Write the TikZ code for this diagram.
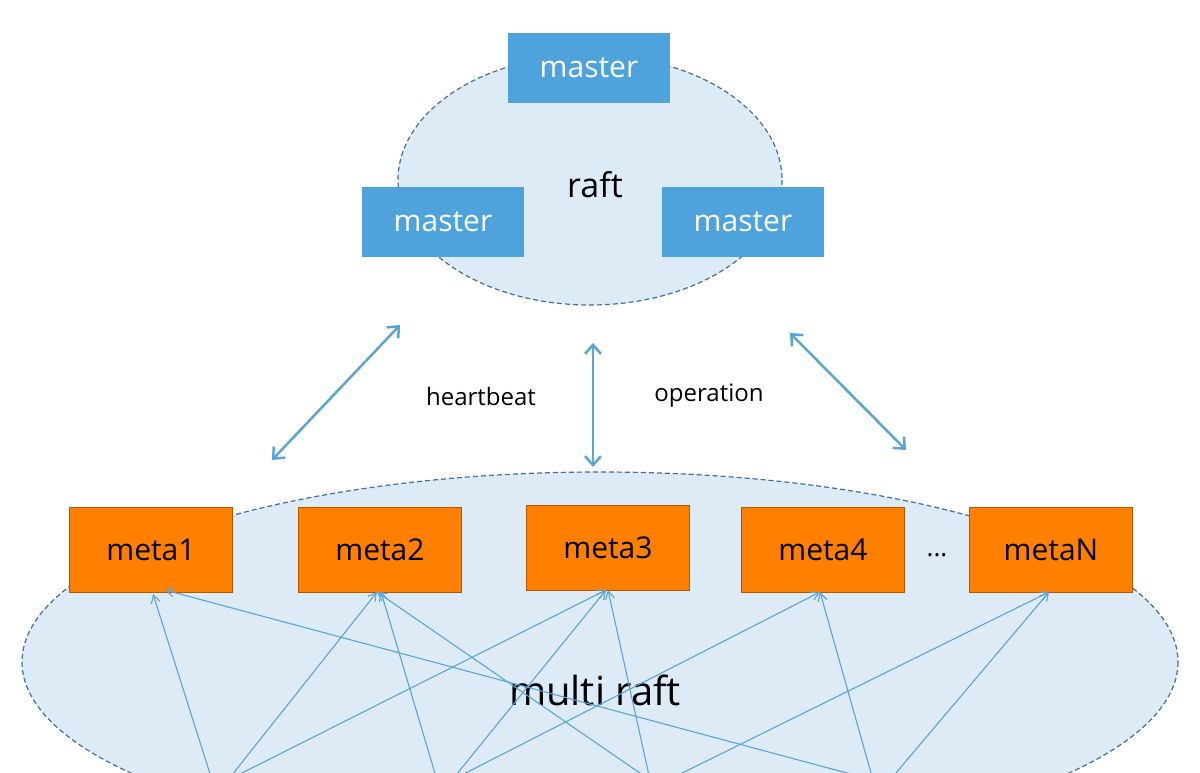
\documentclass[tikz,border=0pt]{standalone}
\usepackage{fontspec}
\setmainfont{Open Sans}
\usetikzlibrary{arrows.meta}
\definecolor{mblue}{HTML}{4EA3DD}
\definecolor{morange}{HTML}{FF8000}
\definecolor{ofill}{HTML}{DDEBF7}
\definecolor{odash}{HTML}{41719C}
\definecolor{lblue}{HTML}{5BA4D8}
\begin{document}
\begin{tikzpicture}[x=1pt,y=-1pt,
  cloud/.style={fill=ofill,draw=odash,dashed,line width=1.2pt,dash pattern=on 5pt off 3pt},
  mbox/.style={fill=mblue,text=white,minimum width=162pt,minimum height=70pt,font=\fontsize{30}{30}\selectfont,inner sep=0pt},
  obox/.style={fill=morange,draw=orange!70!black,text=black,minimum width=163pt,minimum height=85pt,font=\fontsize{30}{30}\selectfont,inner sep=0pt},
  dbl/.style={lblue,line width=2.5pt,{Straight Barb[length=9pt,width=16pt]}-{Straight Barb[length=9pt,width=16pt]}},
  link/.style={lblue,line width=1.1pt,-{Straight Barb[length=8pt,width=9pt]}}]
\useasboundingbox (0,0) rectangle (1200,772);
\begin{scope}
\clip (0,0) rectangle (1200,772);
\fill[white] (0,0) rectangle (1200,772);
\path[cloud] (590,180) ellipse [x radius=192, y radius=125];
\path[cloud] (600,662) ellipse [x radius=578, y radius=190];
\node[mbox] (m1) at (589,68) {master};
\node[mbox] (m2) at (443,222) {master};
\node[mbox] (m3) at (743,222) {master};
\node[font=\fontsize{34}{34}\selectfont] (raft) at (595,185) {raft};
\node[font=\fontsize{24}{24}\selectfont] (hb) at (481,396) {heartbeat};
\node[font=\fontsize{24}{24}\selectfont] (op) at (709,396) {operation};
\coordinate (a1) at (400,325); \coordinate (b1) at (272,460);
\coordinate (a2) at (593,343); \coordinate (b2) at (593,467);
\coordinate (a3) at (790,333); \coordinate (b3) at (906,450);
\draw[dbl] (a1) -- (b1);
\draw[dbl] (a2) -- (b2);
\draw[dbl] (a3) -- (b3);
\node[obox] (t1) at (151,550) {meta1};
\node[obox] (t2) at (380,550) {meta2};
\node[obox] (t3) at (608,548) {meta3};
\node[obox] (t4) at (823,550) {meta4};
\node[obox] (t5) at (1051,550) {metaN};
\node[font=\fontsize{26}{26}\selectfont] (dots) at (937,555) {...};
\node[font=\fontsize{40}{40}\selectfont] (mr) at (595,690) {multi raft};
\coordinate (s1) at (212,780); \coordinate (s2) at (228,780);
\coordinate (s3) at (437,780); \coordinate (s4) at (452,780);
\coordinate (s5) at (650,780); \coordinate (s6) at (668,780);
\coordinate (s7) at (873,780); \coordinate (s8) at (890,780);
\draw[link] (s1) -- (153,594);
\draw[link] (s2) -- (377,592);
\draw[link] (s2) -- (606,590);
\draw[link] (s3) -- (381,592);
\draw[link] (s4) -- (606,590);
\draw[link] (s4) -- (820,592);
\draw[link] (s5) -- (377,592);
\draw[link] (s5) -- (608,590);
\draw[link] (s6) -- (1049,592);
\draw[link] (s7) -- (165,590);
\draw[link] (s7) -- (820,592);
\draw[link] (s8) -- (1049,592);
\end{scope}
\end{tikzpicture}
\end{document}
